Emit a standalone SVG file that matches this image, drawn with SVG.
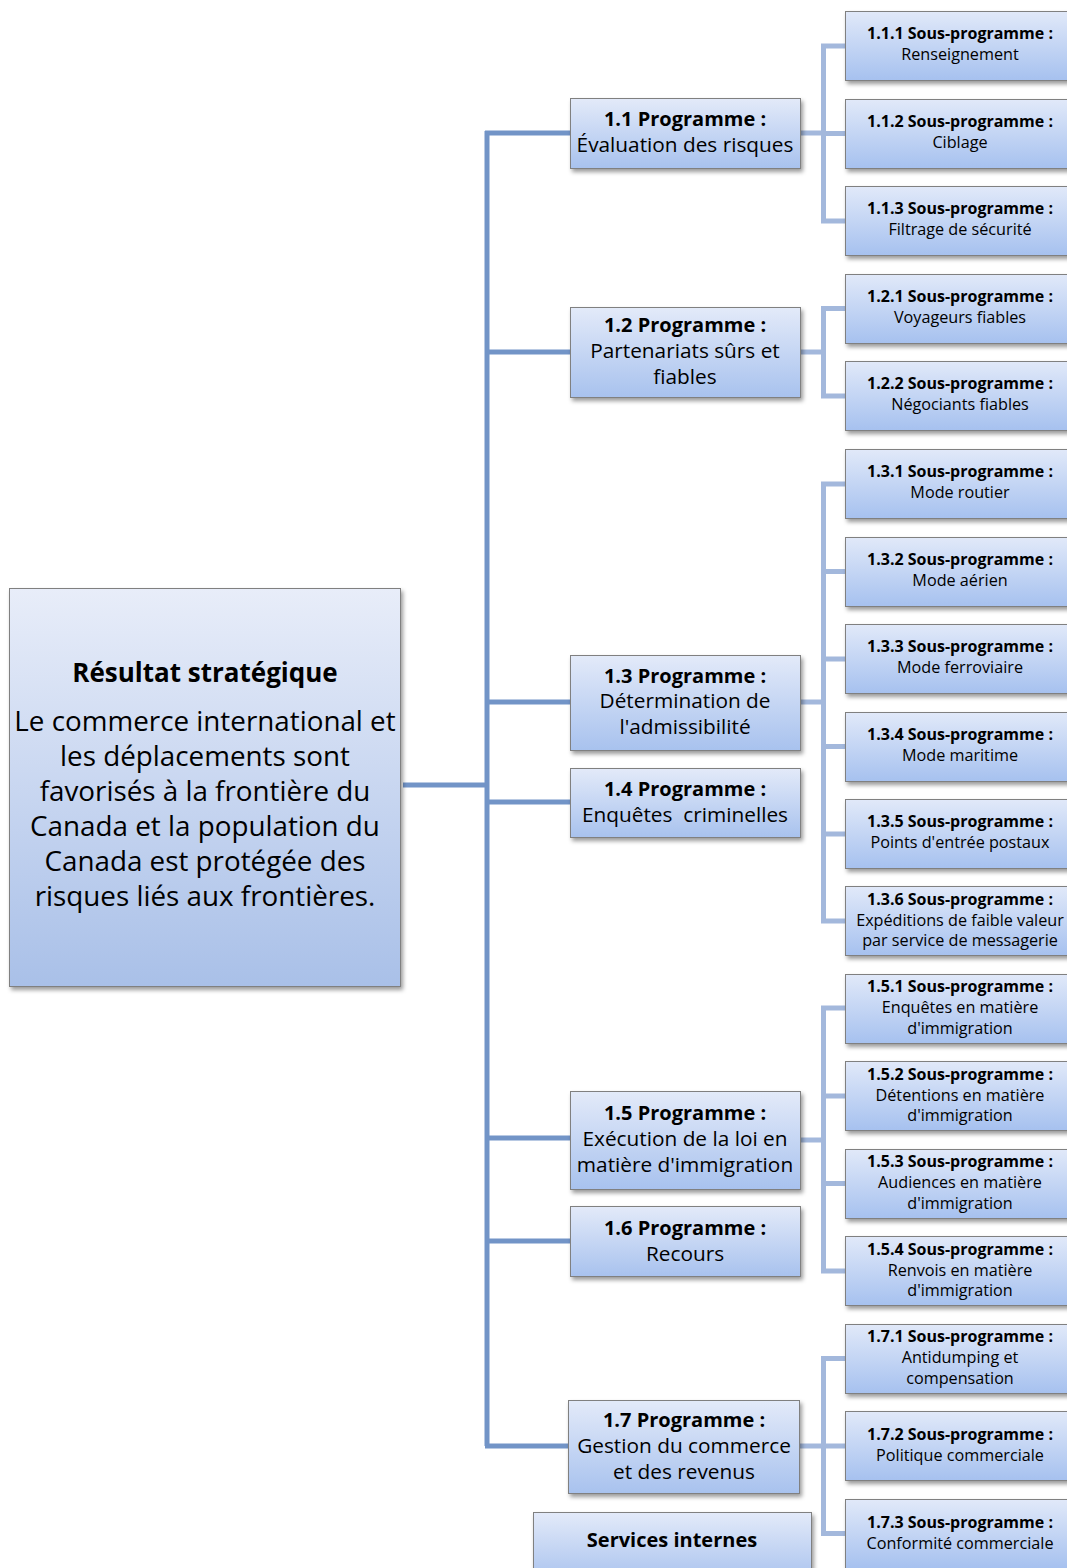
<svg xmlns="http://www.w3.org/2000/svg" width="1067" height="1568" viewBox="0 0 1067 1568">
<style>
.box{stroke:#808080;stroke-width:1;filter:url(#sh)}
.main{fill:url(#gm)}
.prog{fill:url(#gp)}
.sub{fill:url(#gs)}
text{font-family:"Open Sans","Noto Sans","Liberation Sans",sans-serif;fill:#000;text-anchor:middle}
.mt{font-size:27.8px}
.mb{font-size:26px;font-weight:bold}
.pt{font-size:20.8px}
.pb{font-size:20px;font-weight:bold}
.st{font-size:16.2px}
.sb{font-size:16px;font-weight:bold}
.c1{stroke:#7294c7;fill:none;stroke-width:5}
.c2{stroke:#a3b8dc;fill:none;stroke-width:5}
</style>
<defs>
<linearGradient id="gm" x1="0" y1="0" x2="0" y2="1"><stop offset="0" stop-color="#e8edf9"/><stop offset="1" stop-color="#a9c0e8"/></linearGradient>
<linearGradient id="gp" x1="0" y1="0" x2="0" y2="1"><stop offset="0" stop-color="#e3eaf9"/><stop offset="1" stop-color="#a8c2ee"/></linearGradient>
<linearGradient id="gs" x1="0" y1="0" x2="0" y2="1"><stop offset="0" stop-color="#e1e9f9"/><stop offset="1" stop-color="#a6c1ef"/></linearGradient>
<filter id="sh" x="-10%" y="-10%" width="120%" height="130%"><feDropShadow dx="2" dy="3" stdDeviation="2" flood-color="#000" flood-opacity="0.4"/></filter>
</defs>
<g id="connectors">
<path class="c1" d="M403 785H487" stroke-width="6"/>
<path class="c1" d="M487 131V1446"/>
<path class="c1" d="M485 133H571M485 352H571M485 702H571M485 802H571M485 1138H571M485 1241H571M485 1446H569"/>
<path class="c2" d="M800 133H823.5M823.5 46V221M821 46H846M821 133.5H846M821 221H846"/>
<path class="c2" d="M800 352H823.5M823.5 308.5V396M821 308.5H846M821 396H846"/>
<path class="c2" d="M800 702H823.5M823.5 484V921M821 484H846M821 571.5H846M821 659H846M821 746.5H846M821 834H846M821 921H846"/>
<path class="c2" d="M800 1140H823.5M823.5 1008V1271M821 1008H846M821 1096H846M821 1183.5H846M821 1271H846"/>
<path class="c2" d="M800 1446H823.5M823.5 1358.5V1533.5M821 1358.5H846M821 1446H846M821 1533.5H846"/>
</g>
<g id="main">
<rect class="box main" x="9.5" y="588.5" width="391" height="398"/>
<text class="mb" x="205" y="682">Résultat stratégique</text>
<text class="mt" x="205" y="731">Le commerce international et</text>
<text class="mt" x="205" y="766">les déplacements sont</text>
<text class="mt" x="205" y="801">favorisés à la frontière du</text>
<text class="mt" x="205" y="836">Canada et la population du</text>
<text class="mt" x="205" y="871">Canada est protégée des</text>
<text class="mt" x="205" y="906">risques liés aux frontières.</text>
</g>
<g id="p11"><rect class="box prog" x="570.5" y="98.5" width="230" height="70"/><text class="pb" x="685" y="126">1.1 Programme :</text><text class="pt" x="685" y="152">Évaluation des risques</text></g>
<g id="p12"><rect class="box prog" x="570.5" y="307.5" width="230" height="90"/><text class="pb" x="685" y="332">1.2 Programme :</text><text class="pt" x="685" y="358">Partenariats sûrs et</text><text class="pt" x="685" y="384">fiables</text></g>
<g id="p13"><rect class="box prog" x="570.5" y="655.5" width="230" height="95"/><text class="pb" x="685" y="683">1.3 Programme :</text><text class="pt" x="685" y="708">Détermination de</text><text class="pt" x="685" y="734">l'admissibilité</text></g>
<g id="p14"><rect class="box prog" x="570.5" y="768.5" width="230" height="69"/><text class="pb" x="685" y="796">1.4 Programme :</text><text class="pt" x="685" y="822" xml:space="preserve">Enquêtes  criminelles</text></g>
<g id="p15"><rect class="box prog" x="570.5" y="1091.5" width="230" height="98"/><text class="pb" x="685" y="1120">1.5 Programme :</text><text class="pt" x="685" y="1146">Exécution de la loi en</text><text class="pt" x="685" y="1172">matière d'immigration</text></g>
<g id="p16"><rect class="box prog" x="570.5" y="1206.5" width="230" height="70"/><text class="pb" x="685" y="1235">1.6 Programme :</text><text class="pt" x="685" y="1261">Recours</text></g>
<g id="p17"><rect class="box prog" x="568.5" y="1400.5" width="231" height="93"/><text class="pb" x="684" y="1427">1.7 Programme :</text><text class="pt" x="684" y="1453">Gestion du commerce</text><text class="pt" x="684" y="1479">et des revenus</text></g>
<g id="si"><rect class="box prog" x="533.5" y="1512.5" width="278" height="70"/><text class="pb" x="672" y="1547" font-size="19.7">Services internes</text></g>
<g id="s111"><rect class="box sub" x="845.5" y="11.5" width="224" height="69"/><text class="sb" x="960" y="39">1.1.1 Sous-programme :</text><text class="st" x="960" y="60">Renseignement</text></g>
<g id="s112"><rect class="box sub" x="845.5" y="99.5" width="224" height="69"/><text class="sb" x="960" y="127">1.1.2 Sous-programme :</text><text class="st" x="960" y="148">Ciblage</text></g>
<g id="s113"><rect class="box sub" x="845.5" y="186.5" width="224" height="69"/><text class="sb" x="960" y="214">1.1.3 Sous-programme :</text><text class="st" x="960" y="235">Filtrage de sécurité</text></g>
<g id="s121"><rect class="box sub" x="845.5" y="274.5" width="224" height="69"/><text class="sb" x="960" y="302">1.2.1 Sous-programme :</text><text class="st" x="960" y="323">Voyageurs fiables</text></g>
<g id="s122"><rect class="box sub" x="845.5" y="361.5" width="224" height="69"/><text class="sb" x="960" y="389">1.2.2 Sous-programme :</text><text class="st" x="960" y="410">Négociants fiables</text></g>
<g id="s131"><rect class="box sub" x="845.5" y="449.5" width="224" height="69"/><text class="sb" x="960" y="477">1.3.1 Sous-programme :</text><text class="st" x="960" y="498">Mode routier</text></g>
<g id="s132"><rect class="box sub" x="845.5" y="537.5" width="224" height="69"/><text class="sb" x="960" y="565">1.3.2 Sous-programme :</text><text class="st" x="960" y="586">Mode aérien</text></g>
<g id="s133"><rect class="box sub" x="845.5" y="624.5" width="224" height="69"/><text class="sb" x="960" y="652">1.3.3 Sous-programme :</text><text class="st" x="960" y="673">Mode ferroviaire</text></g>
<g id="s134"><rect class="box sub" x="845.5" y="712.5" width="224" height="69"/><text class="sb" x="960" y="740">1.3.4 Sous-programme :</text><text class="st" x="960" y="761">Mode maritime</text></g>
<g id="s135"><rect class="box sub" x="845.5" y="799.5" width="224" height="69"/><text class="sb" x="960" y="827">1.3.5 Sous-programme :</text><text class="st" x="960" y="848">Points d'entrée postaux</text></g>
<g id="s136"><rect class="box sub" x="845.5" y="886.5" width="224" height="69"/><text class="sb" x="960" y="905">1.3.6 Sous-programme :</text><text class="st" x="960" y="926">Expéditions de faible valeur</text><text class="st" x="960" y="946">par service de messagerie</text></g>
<g id="s151"><rect class="box sub" x="845.5" y="974.5" width="224" height="69"/><text class="sb" x="960" y="992">1.5.1 Sous-programme :</text><text class="st" x="960" y="1013">Enquêtes en matière</text><text class="st" x="960" y="1034">d'immigration</text></g>
<g id="s152"><rect class="box sub" x="845.5" y="1061.5" width="224" height="69"/><text class="sb" x="960" y="1080">1.5.2 Sous-programme :</text><text class="st" x="960" y="1101">Détentions en matière</text><text class="st" x="960" y="1121">d'immigration</text></g>
<g id="s153"><rect class="box sub" x="845.5" y="1149.5" width="224" height="69"/><text class="sb" x="960" y="1167">1.5.3 Sous-programme :</text><text class="st" x="960" y="1188">Audiences en matière</text><text class="st" x="960" y="1209">d'immigration</text></g>
<g id="s154"><rect class="box sub" x="845.5" y="1236.5" width="224" height="69"/><text class="sb" x="960" y="1255">1.5.4 Sous-programme :</text><text class="st" x="960" y="1276">Renvois en matière</text><text class="st" x="960" y="1296">d'immigration</text></g>
<g id="s171"><rect class="box sub" x="845.5" y="1324.5" width="224" height="69"/><text class="sb" x="960" y="1342">1.7.1 Sous-programme :</text><text class="st" x="960" y="1363">Antidumping et</text><text class="st" x="960" y="1384">compensation</text></g>
<g id="s172"><rect class="box sub" x="845.5" y="1411.5" width="224" height="69"/><text class="sb" x="960" y="1440">1.7.2 Sous-programme :</text><text class="st" x="960" y="1461">Politique commerciale</text></g>
<g id="s173"><rect class="box sub" x="845.5" y="1499.5" width="224" height="69"/><text class="sb" x="960" y="1528">1.7.3 Sous-programme :</text><text class="st" x="960" y="1549">Conformité commerciale</text></g>
</svg>
